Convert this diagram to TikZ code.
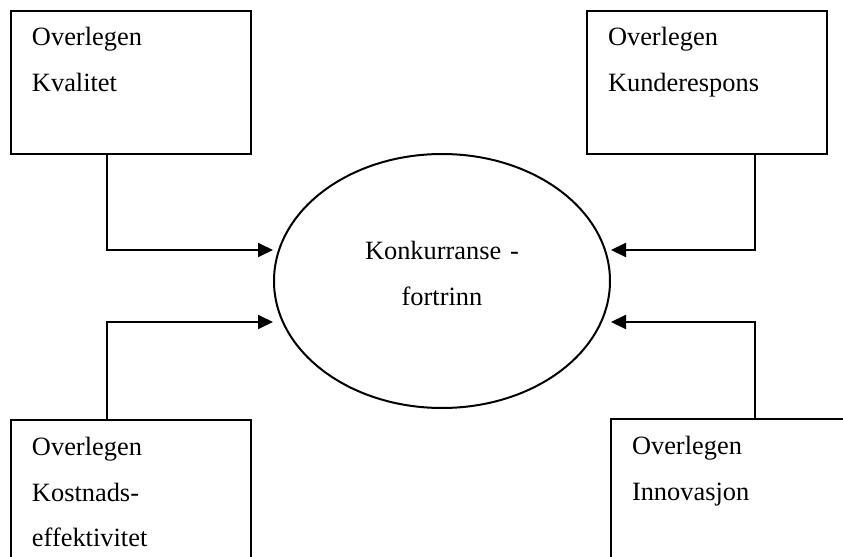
\documentclass[tikz,border=0pt]{standalone}
\usepackage{fontspec}
\setmainfont{Liberation Serif}
\usetikzlibrary{arrows.meta,positioning,shapes.geometric,calc}
\tikzset{
  adv/box/.style={draw, line width=1pt, anchor=north west, inner xsep=10.5pt, inner ysep=0pt,
    text width=99pt, align=left, text height=17.5pt, text depth=54pt,
    font=\fontsize{13.2}{23}\selectfont},
  adv/goal/.style={draw, ellipse, line width=1pt, inner sep=0pt, minimum width=168pt,
    minimum height=127pt, text width=100pt, align=center, text height=10pt, text depth=32pt,
    font=\fontsize{13.2}{23.5}\selectfont},
  arr/.style={-{Triangle[length=7.5pt,width=7pt]}, line width=1pt}
}
\begin{document}
\begin{tikzpicture}[x=0.5pt, y=-0.5pt]
\useasboundingbox (0,0) rectangle (843,557);
\clip (0,0) rectangle (843,557);
\node[adv/box] (kval) at (10,10) {Overlegen\\Kvalitet};
\node[adv/box] (kunde) at (586,10) {Overlegen\\Kunderespons};
\node[adv/box] (kost) at (10,419) {Overlegen\\Kostnads-\\effektivitet};
\node[adv/box] (innov) at (610,418) {Overlegen\\Innovasjon};
\node[adv/goal] (fortrinn) at (442,281) {Konkurranse -\\fortrinn};
% arrow ends just short of the ellipse
\coordinate (tl-in) at (273,250);
\coordinate (tr-in) at (611,250);
\coordinate (bl-in) at (273,322);
\coordinate (br-in) at (611,322);
\draw[arr] ([xshift=-12pt]kval.south) |- (tl-in);
\draw[arr] ([xshift=24pt]kunde.south) |- (tr-in);
\draw[arr] ([xshift=-12pt]kost.north) |- (bl-in);
\draw[arr] ([xshift=12pt]innov.north) |- (br-in);
\end{tikzpicture}
\end{document}
